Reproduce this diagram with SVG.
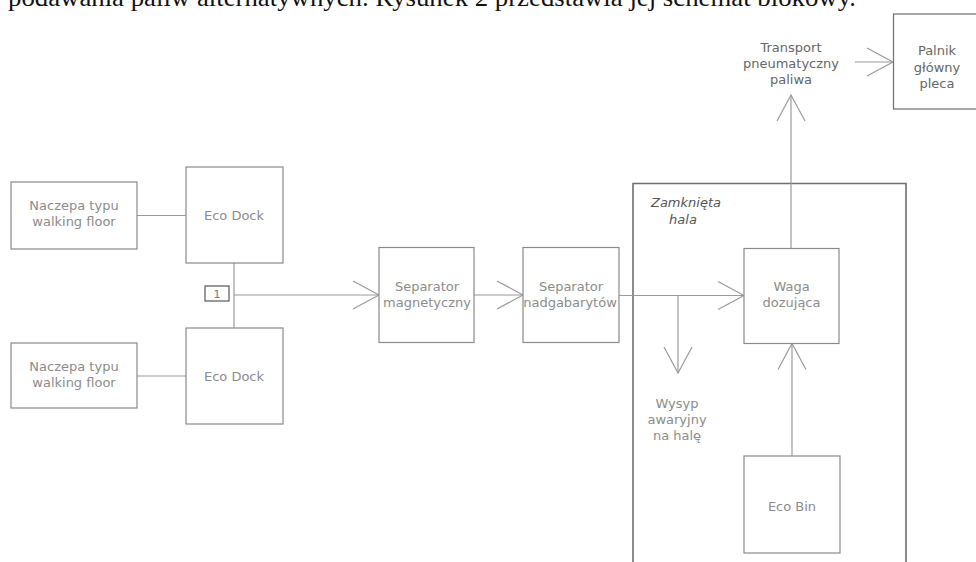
<svg xmlns="http://www.w3.org/2000/svg" width="976" height="562" viewBox="0 0 976 562">
<style>
.box{fill:#fff;stroke:#8a8a8a;stroke-width:1.2}
.lbl{font-family:"DejaVu Sans",Verdana,sans-serif;font-size:13px;fill:#8c8c8c;text-anchor:middle}
.con{stroke:#9a9a9a;stroke-width:1.2;fill:none}
.hall{fill:none;stroke:#6e6e6e;stroke-width:1.6}
</style>
<defs>
<marker id="arr" markerUnits="userSpaceOnUse" markerWidth="30" markerHeight="30" viewBox="0 0 30 30" refX="27" refY="15" orient="auto" overflow="visible">
<path d="M1,1 L27,15 L1,29" fill="none" stroke="#9a9a9a" stroke-width="1.2"/>
</marker>
</defs>
<rect width="976" height="562" fill="#fff"/>
<text x="8" y="6" font-family="'Liberation Serif','Times New Roman',serif" font-size="26" fill="#111" textLength="848" lengthAdjust="spacingAndGlyphs">podawania paliw alternatywnych. Rysunek 2 przedstawia jej schemat blokowy.</text>

<g id="hala">
<path class="hall" d="M633,570 L633,183.5 L906,183.5 L906,570"/>
<text x="686" y="207" font-family="'DejaVu Sans',Verdana,sans-serif" font-size="13" font-style="italic" fill="#555" text-anchor="middle">Zamknięta</text>
<text x="683" y="224" font-family="'DejaVu Sans',Verdana,sans-serif" font-size="13" font-style="italic" fill="#555" text-anchor="middle">hala</text>
</g>

<g id="connectors">
<line class="con" x1="137" y1="215.5" x2="186" y2="215.5"/>
<line class="con" x1="137" y1="376" x2="186" y2="376"/>
<line class="con" x1="234" y1="263" x2="234" y2="328"/>
<line class="con" x1="234" y1="295" x2="379" y2="295" marker-end="url(#arr)"/>
<line class="con" x1="474" y1="295" x2="523" y2="295" marker-end="url(#arr)"/>
<line class="con" x1="619" y1="295.5" x2="744" y2="295.5" marker-end="url(#arr)"/>
<line class="con" x1="678" y1="295.5" x2="678" y2="373" marker-end="url(#arr)"/>
<line class="con" x1="792" y1="456" x2="792" y2="343.5" marker-end="url(#arr)"/>
<line class="con" x1="791" y1="248.5" x2="791" y2="95" marker-end="url(#arr)"/>
<line class="con" x1="855" y1="62" x2="893" y2="62" marker-end="url(#arr)"/>
</g>

<g id="naczepa1">
<rect class="box" x="11" y="182" width="126" height="67"/>
<text class="lbl" x="74" y="210">Naczepa typu</text>
<text class="lbl" x="74" y="226">walking floor</text>
</g>
<g id="naczepa2">
<rect class="box" x="11" y="343" width="126" height="65"/>
<text class="lbl" x="74" y="371">Naczepa typu</text>
<text class="lbl" x="74" y="387">walking floor</text>
</g>
<g id="ecodock1">
<rect class="box" x="186" y="167" width="97" height="96"/>
<text class="lbl" x="234" y="220">Eco Dock</text>
</g>
<g id="ecodock2">
<rect class="box" x="186" y="328" width="97" height="96"/>
<text class="lbl" x="234" y="381">Eco Dock</text>
</g>
<g id="marker1">
<rect x="205" y="286" width="24" height="15" fill="#fff" stroke="#555" stroke-width="1.2"/>
<text x="217" y="298" font-family="'DejaVu Sans',Verdana,sans-serif" font-size="11" fill="#777" text-anchor="middle">1</text>
</g>
<g id="sep_mag">
<rect class="box" x="379" y="247.5" width="95" height="95"/>
<text class="lbl" x="427" y="291">Separator</text>
<text class="lbl" x="427" y="307">magnetyczny</text>
</g>
<g id="sep_nad">
<rect class="box" x="523" y="247.5" width="96" height="95"/>
<text class="lbl" x="571" y="291">Separator</text>
<text class="lbl" x="570" y="307">nadgabarytów</text>
</g>
<g id="waga">
<rect class="box" x="744" y="248.5" width="95" height="95"/>
<text class="lbl" x="791.5" y="291">Waga</text>
<text class="lbl" x="791.5" y="307">dozująca</text>
</g>
<g id="wysyp">
<text class="lbl" x="677" y="408">Wysyp</text>
<text class="lbl" x="677" y="424">awaryjny</text>
<text class="lbl" x="677" y="440">na halę</text>
</g>
<g id="ecobin">
<rect class="box" x="744" y="456" width="96" height="97"/>
<text class="lbl" x="792" y="511">Eco Bin</text>
</g>
<g id="transport">
<text class="lbl" x="791" y="52" style="fill:#666">Transport</text>
<text class="lbl" x="791" y="68" style="fill:#666">pneumatyczny</text>
<text class="lbl" x="791" y="84" style="fill:#666">paliwa</text>
</g>
<g id="palnik">
<rect x="893.5" y="14" width="90" height="95" fill="#fff" stroke="#6e6e6e" stroke-width="1.2"/>
<text class="lbl" x="937" y="55" style="fill:#666">Palnik</text>
<text class="lbl" x="937" y="72" style="fill:#666">główny</text>
<text class="lbl" x="937" y="88" style="fill:#666">pleca</text>
</g>
</svg>
